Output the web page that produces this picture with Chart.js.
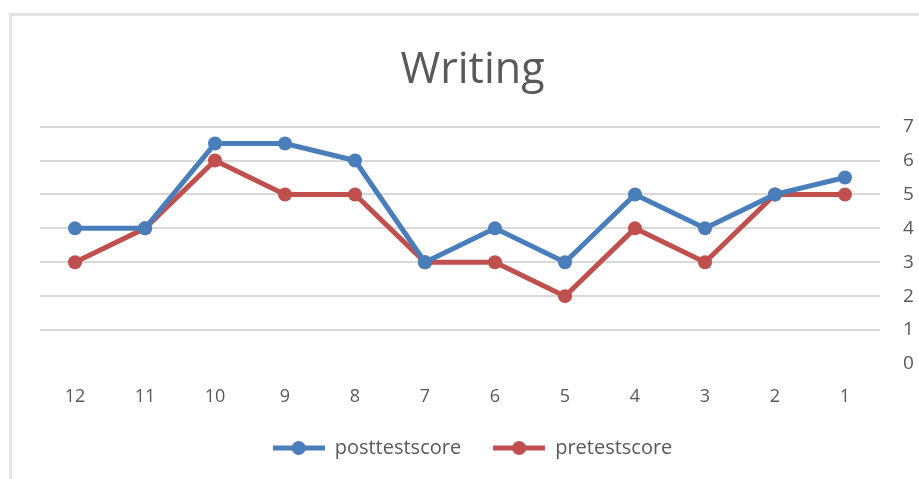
<!DOCTYPE html>
<html>
<head>
<meta charset="utf-8">
<script src="https://cdn.jsdelivr.net/npm/chart.js@4/dist/chart.umd.min.js"></script>
<style>
  html, body { margin: 0; padding: 0; background: #fff; overflow: hidden; }
  #wrap { position: relative; width: 945px; height: 479px; }
  #frame { position: absolute; left: 9px; top: 13px; width: 960px; height: 500px;
           border-left: 3px solid #e3e3e3; border-top: 3px solid #e3e3e3; }
  canvas { position: absolute; left: 0; top: 0; }
</style>
</head>
<body>
<div id="wrap">
  <div id="frame"></div>
  <canvas id="c" width="945" height="479"></canvas>
</div>
<script>
// Données
const categories = ['12', '11', '10', '9', '8', '7', '6', '5', '4', '3', '2', '1']
const posttest = [4, 4, 6.5, 6.5, 6, 3, 4, 3, 5, 4, 5, 5.5]
const pretest  = [3, 4, 6, 5, 5, 3, 3, 2, 4, 3, 5, 5]

const BLEU  = '#4a7ebb'
const ROUGE = '#c0504d'
const GRIS  = '#595959'
const GRILLE = '#d9d9d9'
const FONTE = "'Open Sans', 'Liberation Sans', sans-serif"

// Symbole de légende : trait + point, comme dans Excel
function symbole(couleur) {
  const cv = document.createElement('canvas')
  cv.width = 52
  cv.height = 16
  const ctx = cv.getContext('2d')
  ctx.strokeStyle = couleur
  ctx.lineWidth = 5
  ctx.beginPath()
  ctx.moveTo(0, 8)
  ctx.lineTo(52, 8)
  ctx.stroke()
  ctx.fillStyle = couleur
  ctx.beginPath()
  ctx.arc(26, 8, 7, 0, Math.PI * 2)
  ctx.fill()
  return cv
}

new Chart(document.getElementById('c').getContext('2d'), {
  type: 'line',
  data: {
    labels: categories,
    datasets: [
      {
        label: 'posttestscore', data: posttest, yAxisID: 'y',
        borderColor: BLEU, backgroundColor: BLEU, borderWidth: 5,
        pointRadius: 7, pointBackgroundColor: BLEU, pointBorderWidth: 0, tension: 0,
      },
      {
        label: 'pretestscore', data: pretest, yAxisID: 'y',
        borderColor: ROUGE, backgroundColor: ROUGE, borderWidth: 5,
        pointRadius: 7, pointBackgroundColor: ROUGE, pointBorderWidth: 0, tension: 0,
      },
    ],
  },
  options: {
    responsive: false,
    animation: false,
    devicePixelRatio: 1,
    layout: { padding: { left: 0, right: 0, top: 0, bottom: 11 } },
    plugins: {
      title: {
        display: true, text: 'Writing', color: GRIS,
        font: { family: FONTE, size: 43, weight: 'normal' },
        padding: { top: 45, bottom: 30 },
      },
      legend: {
        position: 'bottom',
        labels: {
          color: GRIS, font: { family: FONTE, size: 20 },
          usePointStyle: true, pointStyleWidth: 52, padding: 32,
          generateLabels(chart) {
            return chart.data.datasets.map((d, i) => ({
              text: d.label, fillStyle: d.borderColor, strokeStyle: d.borderColor,
              pointStyle: symbole(d.borderColor), fontColor: GRIS, datasetIndex: i, lineWidth: 0,
            }))
          },
        },
      },
      tooltip: { enabled: false },
    },
    scales: {
      x: {
        offset: true,
        grid: { display: false },
        border: { display: false },
        ticks: { color: GRIS, font: { family: FONTE, size: 18 }, padding: 14 },
        afterFit(scale) { scale.height = 42 },
      },
      // axe gauche vide : simple marge pour la zone de tracé
      marge: {
        position: 'left', display: true,
        grid: { display: false }, border: { display: false }, ticks: { display: false },
        afterFit(scale) { scale.width = 40 },
      },
      y: {
        position: 'right',
        min: 0, max: 7,
        border: { display: false },
        grid: {
          color: ctx => (ctx.tick && ctx.tick.value === 0 ? 'rgba(0,0,0,0)' : GRILLE),
          lineWidth: 2, drawTicks: false,
        },
        ticks: { stepSize: 1, color: GRIS, font: { family: FONTE, size: 19 }, padding: 23 },
        afterFit(scale) { scale.width = 65 },
      },
    },
  },
})
</script>
</body>
</html>
